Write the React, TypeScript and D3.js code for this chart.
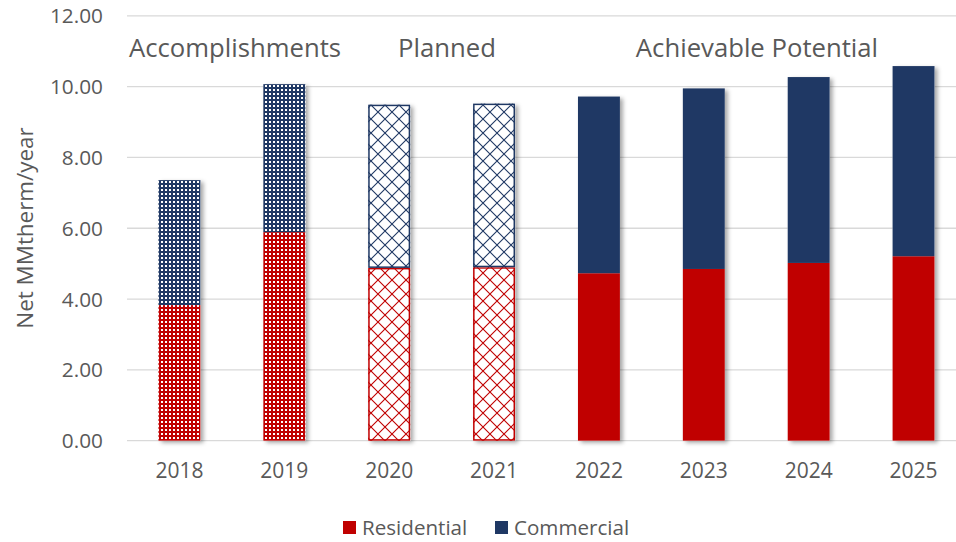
import React from "react";
import * as d3 from "d3";

const years = ["2018", "2019", "2020", "2021", "2022", "2023", "2024", "2025"];
const residential = [3.83, 5.89, 4.88, 4.9, 4.73, 4.85, 5.02, 5.21];
const commercial = [3.53, 4.18, 4.61, 4.62, 4.99, 5.1, 5.25, 5.37];
const styles = ["dots", "dots", "diamond", "diamond", "solid", "solid", "solid", "solid"];
const yTicks = [0, 2, 4, 6, 8, 10, 12];
const phases = [
  { label: "Accomplishments", x: 235 },
  { label: "Planned", x: 447 },
  { label: "Achievable Potential", x: 757 },
];
const seriesNames = ["Residential", "Commercial"];
const RED = "#c00000";
const BLUE = "#1f3864";

const W = 956, H = 542;
const FONT = "'Open Sans', sans-serif";
const TEXT = "#595959";

export default function App() {
  const x = d3.scaleBand<string>().domain(years).range([127, 966]).paddingInner(0.6).paddingOuter(0.3);
  const y = d3.scaleLinear().domain([0, 12]).range([440.7, 15.8]);
  const bw = x.bandwidth();

  const fillFor = (style: string, color: string, key: string) => {
    if (style === "solid") return color;
    return `url(#${style}-${key})`;
  };

  const bars: JSX.Element[] = [];
  years.forEach((yr, i) => {
    const segs = [
      { v0: 0, v1: residential[i], color: RED, key: "r" },
      { v0: residential[i], v1: residential[i] + commercial[i], color: BLUE, key: "c" },
    ];
    const st = styles[i];
    bars.push(
      <rect key={yr + "sh"} x={x(yr)!} y={y(segs[1].v1)} width={bw} height={y(0) - y(segs[1].v1)}
        fill="#fff" filter="url(#shadow)" />
    );
    segs.forEach((s) => {
      const top = y(s.v1), bot = y(s.v0);
      bars.push(
        <rect key={yr + s.key} x={x(yr)!} y={top} width={bw} height={bot - top}
          fill={fillFor(st, s.color, s.key)} />
      );
      if (st === "diamond") {
        bars.push(
          <rect key={yr + s.key + "o"} x={x(yr)! + 0.75} y={top + 0.75} width={bw - 1.5} height={bot - top - 1.5}
            fill="none" stroke={s.color} strokeWidth={1.5} />
        );
      }
    });
  });

  return (
    <div style={{ position: "fixed", left: 0, top: 0 }}>
      <svg width={W} height={H} style={{ display: "block", background: "#fff" }}>
        <defs>
          <filter id="shadow" x="-20%" y="-10%" width="150%" height="130%">
            <feDropShadow dx="3" dy="2" stdDeviation="2.2" floodColor="#000" floodOpacity="0.35" />
          </filter>
          {[{ k: "r", c: RED }, { k: "c", c: BLUE }].map((p) => (
            <React.Fragment key={p.k}>
              <pattern id={`dots-${p.k}`} patternUnits="userSpaceOnUse" width={4} height={4}>
                <rect width={4} height={4} fill={p.c} />
                <rect x={1} y={1} width={2} height={2} fill="#fff" />
              </pattern>
              <pattern id={`diamond-${p.k}`} patternUnits="userSpaceOnUse" width={14} height={14} x={0} y={0}>
                <rect width={14} height={14} fill="#fff" />
                <path d="M0,0 L14,14 M14,0 L0,14" stroke={p.c} strokeWidth={1.1} />
              </pattern>
            </React.Fragment>
          ))}
        </defs>

        {yTicks.map((t) => (
          <g key={t}>
            <line x1={127} x2={W} y1={y(t)} y2={y(t)} stroke="#d9d9d9" strokeWidth={1.3} />
            <text x={103} y={y(t)} dy="0.36em" textAnchor="end" fontFamily={FONT} fontSize={20.8} fill={TEXT}>
              {t.toFixed(2)}
            </text>
          </g>
        ))}

        {bars}

        {years.map((yr) => (
          <text key={yr} x={x(yr)! + bw / 2} y={470} dy="0.36em" textAnchor="middle" fontFamily={FONT} fontSize={21} fill={TEXT}>
            {yr}
          </text>
        ))}

        {phases.map((p) => (
          <text key={p.label} x={p.x} y={48} dy="0.36em" textAnchor="middle" fontFamily={FONT} fontSize={25.7} fill={TEXT}>
            {p.label}
          </text>
        ))}

        <text transform={`translate(25,228) rotate(-90)`} dy="0.36em" textAnchor="middle" fontFamily={FONT} fontSize={22.4} fill={TEXT}>
          Net MMtherm/year
        </text>

        <g>
          <rect x={343} y={521} width={13} height={13} fill={RED} />
          <text x={362} y={528} dy="0.36em" fontFamily={FONT} fontSize={20.6} fill={TEXT}>{seriesNames[0]}</text>
          <rect x={495} y={521} width={13} height={13} fill={BLUE} />
          <text x={514} y={528} dy="0.36em" fontFamily={FONT} fontSize={20.6} fill={TEXT}>{seriesNames[1]}</text>
        </g>
      </svg>
    </div>
  );
}
